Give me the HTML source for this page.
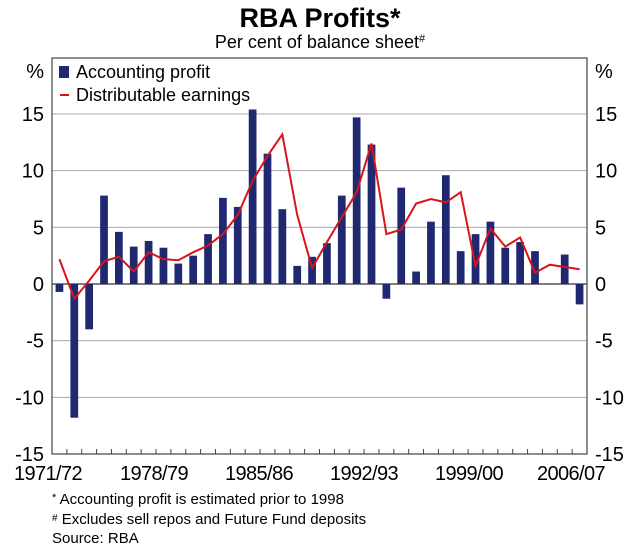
<!DOCTYPE html>
<html><head><meta charset="utf-8"><style>
body{margin:0;background:#fff;}
svg text{font-family:"Liberation Sans",sans-serif;fill:#000;}
</style></head><body>
<svg id="chart" width="625" height="549" xmlns="http://www.w3.org/2000/svg">
<text x="320" y="27" text-anchor="middle" font-size="27" font-weight="bold">RBA Profits*</text>
<text x="320" y="48" text-anchor="middle" font-size="18">Per cent of balance sheet<tspan font-size="11" dy="-6">#</tspan></text>
<g id="grid"></g>
<g id="bars"></g>
<g id="line"></g>
<rect x="52" y="58" width="535" height="396" fill="none" stroke="#444" stroke-width="1.2"/>
<g id="axes"></g>
<g>
<rect x="59" y="66" width="10" height="12" fill="#1f2870"/>
<text x="76" y="78" font-size="18">Accounting profit</text>
<line x1="60" y1="95" x2="69" y2="95" stroke="#d7141c" stroke-width="2"/>
<text x="76" y="101" font-size="18">Distributable earnings</text>
</g>
<text x="52" y="504" font-size="15"><tspan font-size="11" dy="-3">*</tspan><tspan dy="3"> Accounting profit is estimated prior to 1998</tspan></text>
<text x="52" y="524" font-size="15"><tspan font-size="10" dy="-3">#</tspan><tspan dy="3"> Excludes sell repos and Future Fund deposits</tspan></text>
<text x="52" y="543" font-size="15">Source: RBA</text>
</svg>
<script>
const profit=[-0.7,-11.8,-4.0,7.8,4.6,3.3,3.8,3.2,1.8,2.5,4.4,7.6,6.8,15.4,11.5,6.6,1.6,2.4,3.6,7.8,14.7,12.3,-1.3,8.5,1.1,5.5,9.6,2.9,4.4,5.5,3.2,3.7,2.9,0.05,2.6,-1.8];
const earnings=[2.2,-1.3,0.3,2.0,2.4,1.1,2.8,2.2,2.1,2.8,3.4,4.4,6.1,9.1,11.3,13.2,6.1,1.4,3.7,5.9,8.1,12.4,4.4,4.8,7.1,7.5,7.2,8.1,1.6,4.9,3.3,4.1,1.0,1.7,1.5,1.3];
const yTicks=[15,10,5,0,-5,-10,-15];
const xLabels=["1971/72","1978/79","1985/86","1992/93","1999/00","2006/07"];
const xLabelPos=[48,154,259,364,469,571];
const NS="http://www.w3.org/2000/svg";
const L=52,R=587,T=114,B=454,ymax=15,ymin=-15;
const n=profit.length,slot=(R-L)/n;
function y(v){return T+(ymax-v)/(ymax-ymin)*(B-T);}
function xc(i){return L+(i+0.5)*slot;}
function mk(tag,attrs,parent){const e=document.createElementNS(NS,tag);for(const k in attrs)e.setAttribute(k,attrs[k]);document.getElementById(parent).appendChild(e);return e;}
yTicks.forEach(t=>{
  if(t!==-15){const g=mk('line',{x1:L,x2:R,y1:y(t),y2:y(t),stroke:t===0?'#333':'#aaa','stroke-width':t===0?1.2:1},'grid');
  
  }
  const a=mk('text',{x:44,y:y(t)+7,'text-anchor':'end','font-size':20},'axes');a.textContent=t;
  
  
  const b=mk('text',{x:595,y:y(t)+7,'font-size':20},'axes');b.textContent=t;
  
  
});
const p1=mk('text',{x:44,y:78,'text-anchor':'end','font-size':20},'axes');p1.textContent='%';


const p2=mk('text',{x:595,y:78,'font-size':20},'axes');p2.textContent='%';


for(let i=1;i<n;i++){const tk=mk('line',{x1:L+i*slot,x2:L+i*slot,y1:B,y2:B-5,stroke:'#444'},'axes');

}
xLabels.forEach((s,i)=>{const t=mk('text',{x:xLabelPos[i],y:480,'text-anchor':'middle','font-size':20,'letter-spacing':'-0.6'},'axes');t.textContent=s;

});
const bw=slot*0.52;
profit.forEach((v,i)=>{const y0=y(0),yv=y(v);
const r=mk('rect',{x:xc(i)-bw/2,y:Math.min(y0,yv),width:bw,height:Math.max(Math.abs(yv-y0),0.6),fill:'#1f2870'},'bars');

});
const pts=earnings.map((v,i)=>xc(i).toFixed(1)+','+y(v).toFixed(1)).join(' ');
const pl=mk('polyline',{points:pts,fill:'none',stroke:'#d7141c','stroke-width':2,'stroke-linejoin':'miter'},'line');


</script>
</body></html>
